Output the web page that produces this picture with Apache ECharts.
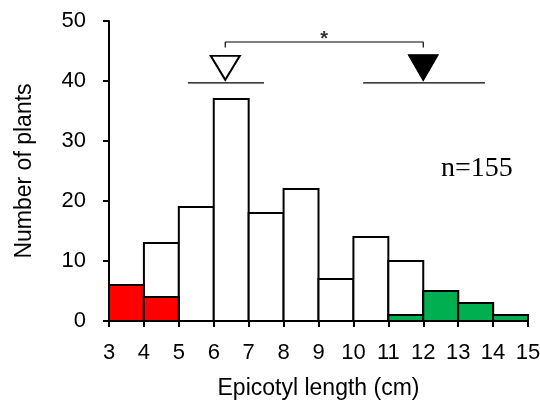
<!DOCTYPE html>
<html>
<head>
<meta charset="utf-8">
<script src="https://cdn.jsdelivr.net/npm/echarts@6/dist/echarts.min.js"></script>
<style>
  html, body { margin: 0; padding: 0; background: #fff; }
  #chart { width: 540px; height: 402px; }
</style>
</head>
<body>
<div id="chart"></div>
<script>
// histogram bins (cm), 1 cm wide
const binStarts = [3, 4, 5, 6, 7, 8, 9, 10, 11, 12, 13, 14]
const totalCounts = [6, 13, 19, 37, 18, 22, 7, 14, 10, 5, 3, 1]
const redCounts = [6, 4, 0, 0, 0, 0, 0, 0, 0, 0, 0, 0]
const greenCounts = [0, 0, 0, 0, 0, 0, 0, 0, 1, 5, 3, 1]
const yTicks = [0, 10, 20, 30, 40, 50]

// markers above the histogram: position and spread
const openMarker = { x: 6.33, y: 42.2, from: 5.26, to: 7.44, lineY: 39.7 }
const filledMarker = { x: 12.0, y: 42.2, from: 10.28, to: 13.77, lineY: 39.7 }
const bracketTop = 46.5
const bracketFoot = 45.6
const sampleLabel = 'n=155'

const toBins = (counts) => binStarts.map((s, i) => [s, s + 1, counts[i]]).filter(d => d[2] > 0)

const renderBin = (color) => (params, api) => {
    const p0 = api.coord([api.value(0), api.value(2)])
    const p1 = api.coord([api.value(1), 0])
    return {
        type: 'rect',
        shape: { x: p0[0], y: p0[1], width: p1[0] - p0[0], height: p1[1] - p0[1] },
        style: { fill: color, stroke: '#000', lineWidth: 2 },
    }
}

const chart = echarts.init(document.getElementById('chart'))
const option = {
    animation: false,
    grid: { left: 109, right: 12, top: 21, bottom: 81, outerBoundsMode: 'none' },
    xAxis: {
        type: 'value',
        min: 3,
        max: 15,
        interval: 1,
        name: 'Epicotyl length (cm)',
        nameLocation: 'middle',
        nameGap: 56,
        nameTextStyle: { fontFamily: 'Liberation Sans', fontSize: 23, color: '#000' },
        axisLine: { lineStyle: { color: '#000', width: 2 } },
        axisTick: { show: true, length: 6, lineStyle: { color: '#000', width: 2 } },
        axisLabel: { fontFamily: 'Liberation Sans', fontSize: 22, color: '#000', margin: 21 },
        splitLine: { show: false },
    },
    yAxis: {
        type: 'value',
        min: yTicks[0],
        max: yTicks[yTicks.length - 1],
        interval: 10,
        name: 'Number of plants',
        nameLocation: 'middle',
        nameGap: 73,
        nameTextStyle: { fontFamily: 'Liberation Sans', fontSize: 23, color: '#000' },
        axisLine: { show: true, lineStyle: { color: '#000', width: 2 } },
        axisTick: { show: true, length: 6, lineStyle: { color: '#000', width: 2 } },
        axisLabel: { fontFamily: 'Liberation Sans', fontSize: 22, color: '#000', margin: 23 },
        splitLine: { show: false },
    },
    graphic: [{
        type: 'text',
        left: 441,
        top: 155,
        style: { text: sampleLabel, font: '28px "Liberation Serif"', fill: '#000' },
    }],
    series: [
        { type: 'custom', renderItem: renderBin('#ffffff'), data: toBins(totalCounts), z: 2 },
        { type: 'custom', renderItem: renderBin('#ff0000'), data: toBins(redCounts), z: 3 },
        { type: 'custom', renderItem: renderBin('#00b050'), data: toBins(greenCounts), z: 3 },
        {
            type: 'line', symbol: 'none', z: 4,
            lineStyle: { color: '#000', width: 1.3 },
            data: [[openMarker.from, openMarker.lineY], [openMarker.to, openMarker.lineY]],
        },
        {
            type: 'line', symbol: 'none', z: 4,
            lineStyle: { color: '#000', width: 1.3 },
            data: [[filledMarker.from, filledMarker.lineY], [filledMarker.to, filledMarker.lineY]],
        },
        {
            type: 'line', symbol: 'none', z: 4,
            lineStyle: { color: '#000', width: 1.2 },
            data: [[openMarker.x, bracketFoot], [openMarker.x, bracketTop],
                   [filledMarker.x, bracketTop], [filledMarker.x, bracketFoot]],
        },
        {
            type: 'scatter', z: 5,
            symbol: 'triangle', symbolRotate: 180, symbolSize: [29, 24],
            itemStyle: { color: '#fff', borderColor: '#000', borderWidth: 2, opacity: 1 },
            data: [[openMarker.x, openMarker.y]],
        },
        {
            type: 'scatter', z: 5,
            symbol: 'triangle', symbolRotate: 180, symbolSize: [30, 26],
            itemStyle: { color: '#000', borderColor: '#000', borderWidth: 1, opacity: 1 },
            data: [[filledMarker.x, filledMarker.y]],
        },
        {
            type: 'scatter', z: 5, symbolSize: 0,
            label: {
                show: true, position: 'top', distance: -7, formatter: '*',
                fontFamily: 'Liberation Sans', fontSize: 20, fontWeight: 'bold', color: '#000',
            },
            data: [[(openMarker.x + filledMarker.x) / 2, bracketTop]],
        },
    ],
}
chart.setOption(option)
</script>
</body>
</html>
